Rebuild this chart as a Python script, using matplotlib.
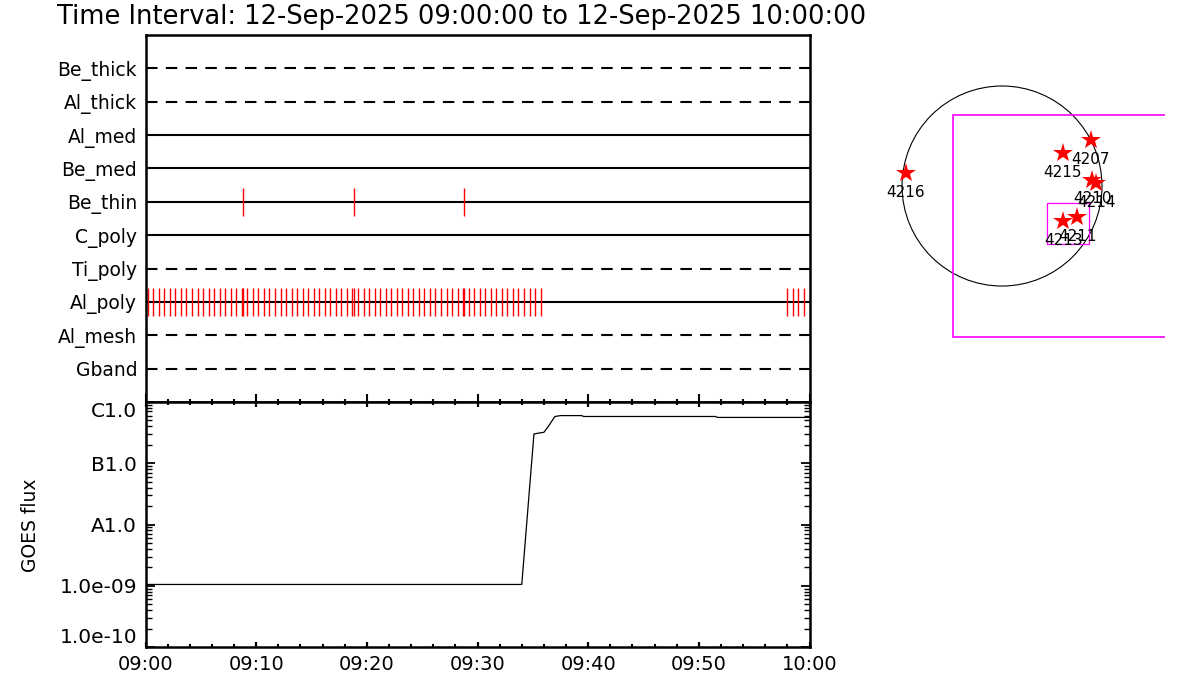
import matplotlib
matplotlib.use("Agg")
import matplotlib.pyplot as plt
from matplotlib.patches import Circle, Rectangle
from matplotlib.ticker import FixedLocator, MultipleLocator, LogLocator, NullFormatter

# attenuator / filter channels, top to bottom
channels = ['Be_thick', 'Al_thick', 'Al_med', 'Be_med', 'Be_thin',
            'C_poly', 'Ti_poly', 'Al_poly', 'Al_mesh', 'Gband']
dashed = ['Be_thick', 'Al_thick', 'Ti_poly', 'Al_mesh', 'Gband']

# event times in minutes after 09:00
be_thin_t = [8.8, 18.8, 28.8]
al_poly_t = [0.2, 0.7, 1.2, 1.7, 2.2, 2.7, 3.2, 3.7, 4.2, 4.7,
             5.2, 5.7, 6.2, 6.7, 7.2, 7.7, 8.2, 8.7, 8.8, 9.2, 9.7,
             10.2, 10.7, 11.2, 11.7, 12.2, 12.7, 13.2, 13.7, 14.2, 14.7,
             15.2, 15.7, 16.2, 16.7, 17.2, 17.7, 18.2, 18.7, 18.8, 19.2, 19.7,
             20.2, 20.7, 21.2, 21.7, 22.2, 22.7, 23.2, 23.7, 24.2, 24.7,
             25.2, 25.7, 26.2, 26.7, 27.2, 27.7, 28.2, 28.7, 28.8, 29.2, 29.7,
             30.2, 30.7, 31.2, 31.7, 32.2, 32.7, 33.2, 33.7, 34.2, 34.7,
             35.2, 35.7,
             58.0, 58.5, 59.0, 59.5]

# GOES flux curve
goes_t = [0, 34.0, 35.1, 35.5, 36.0, 36.4, 36.85, 37.0, 37.5, 39.4, 39.6,
          51.5, 51.7, 60]
goes_f = [1.05e-9, 1.05e-9, 3.0e-7, 3.1e-7, 3.2e-7, 4.0e-7, 5.3e-7, 5.8e-7,
          6.0e-7, 6.0e-7, 5.8e-7, 5.8e-7, 5.6e-7, 5.6e-7]

time_ticks = [0, 10, 20, 30, 40, 50, 60]
time_labels = ['09:00', '09:10', '09:20', '09:30', '09:40', '09:50', '10:00']
goes_levels = [1e-10, 1e-9, 1e-8, 1e-7, 1e-6]
goes_labels = ['1.0e-10', '1.0e-09', 'A1.0', 'B1.0', 'C1.0']

# solar map (arcsec)
r_sun = 955
ar_num = ['4216', '4207', '4215', '4210', '4214', '4213', '4211']
ar_x = [-920, 847, 580, 860, 898, 585, 719]
ar_y = [127, 439, 312, 62, 33, -331, -299]
fov_big = (-471, -1445, 2120, 2120)
fov_small = (433, -557, 400, 392)

plt.rcParams['font.family'] = 'DejaVu Sans'

fig = plt.figure(figsize=(12, 7), dpi=100)

# ---- filter status panel
ax1 = fig.add_axes([145.5 / 1200, 1 - 402 / 700, 664 / 1200, 367 / 700])
n = len(channels)
for i, name in enumerate(channels):
    y = n - i
    ls = (0, (5.5, 4)) if name in dashed else '-'
    ax1.axhline(y, color='black', lw=1.5, ls=ls, zorder=1)
ybt = n - channels.index('Be_thin')
yap = n - channels.index('Al_poly')
ax1.vlines(be_thin_t, ybt - 0.42, ybt + 0.42, colors='red', lw=1.0, zorder=2)
ax1.vlines(al_poly_t, yap - 0.42, yap + 0.42, colors='red', lw=1.0, zorder=2)
ax1.set_xlim(0, 60)
ax1.set_ylim(0, n + 1)
ax1.set_yticks([n - i for i in range(n)])
ax1.set_yticklabels(channels)
ax1.tick_params(axis='y', length=0, pad=6, labelsize=13.5)
ax1.xaxis.set_major_locator(FixedLocator(time_ticks))
ax1.xaxis.set_minor_locator(MultipleLocator(2))
ax1.tick_params(axis='x', which='major', direction='in', length=5.5, width=1.5,
                labelbottom=False, top=False)
ax1.tick_params(axis='x', which='minor', direction='in', length=2, width=1.5, top=False)
for s in ax1.spines.values():
    s.set_linewidth(1.8)

# ---- GOES panel
ax2 = fig.add_axes([145.5 / 1200, 1 - 647 / 700, 664 / 1200, 245 / 700])
ax2.plot(goes_t, goes_f, color='black', lw=0.9)
ax2.set_yscale('log')
ax2.set_xlim(0, 60)
ax2.set_ylim(1e-10, 1e-6)
ax2.yaxis.set_major_locator(FixedLocator(goes_levels))
ax2.set_yticklabels(goes_labels)
ax2.yaxis.set_minor_locator(LogLocator(base=10, subs=range(2, 10)))
ax2.yaxis.set_minor_formatter(NullFormatter())
ax2.tick_params(axis='y', which='major', direction='in', length=6.5, width=1.3,
                right=True, labelsize=14.5, pad=6)
ax2.tick_params(axis='y', which='minor', direction='in', length=4.5, width=1.0, right=True)
ylabs = ax2.get_yticklabels()
ylabs[0].set_va('bottom')
ylabs[-1].set_va('top')
ax2.xaxis.set_major_locator(FixedLocator(time_ticks))
ax2.set_xticklabels(time_labels)
ax2.xaxis.set_minor_locator(MultipleLocator(2))
ax2.tick_params(axis='x', which='major', direction='in', length=3.5, width=1.6,
                top=True, labelsize=14, pad=6)
ax2.tick_params(axis='x', which='minor', direction='in', length=2, width=1.5, top=True)
for s in ax2.spines.values():
    s.set_linewidth(1.8)
fig.text(30 / 1200, 1 - 525 / 700, 'GOES flux', rotation=90, ha='center',
         va='center', fontsize=13.5)

fig.text(57 / 1200, 1 - 17 / 700,
         'Time Interval: 12-Sep-2025 09:00:00 to 12-Sep-2025 10:00:00',
         fontsize=18.5, ha='left', va='center')

# ---- solar disk map
ax3 = fig.add_axes([870 / 1200, 1 - 345 / 700, 295 / 1200, 270 / 700])
ax3.set_xlim(-1261, 1557)
ax3.set_ylim(-1518, 1060)
ax3.axis('off')
ax3.add_patch(Circle((0, 0), r_sun, fill=False, ec='black', lw=0.8))
ax3.add_patch(Rectangle(fov_big[:2], fov_big[2], fov_big[3], fill=False,
                        ec='#ff00ff', lw=1.2))
ax3.add_patch(Rectangle(fov_small[:2], fov_small[2], fov_small[3], fill=False,
                        ec='#ff00ff', lw=0.9))
ax3.plot(ar_x, ar_y, ls='none', marker='*', ms=15, color='red', mew=0)
# labels overlap in the original too (4210/4214, 4213/4211)
for num, x, y in zip(ar_num, ar_x, ar_y):
    ax3.annotate(num, (x, y), xytext=(0, -14), textcoords='offset points',
                 ha='center', va='center', fontsize=11)

fig.savefig('out.png', dpi=100)
